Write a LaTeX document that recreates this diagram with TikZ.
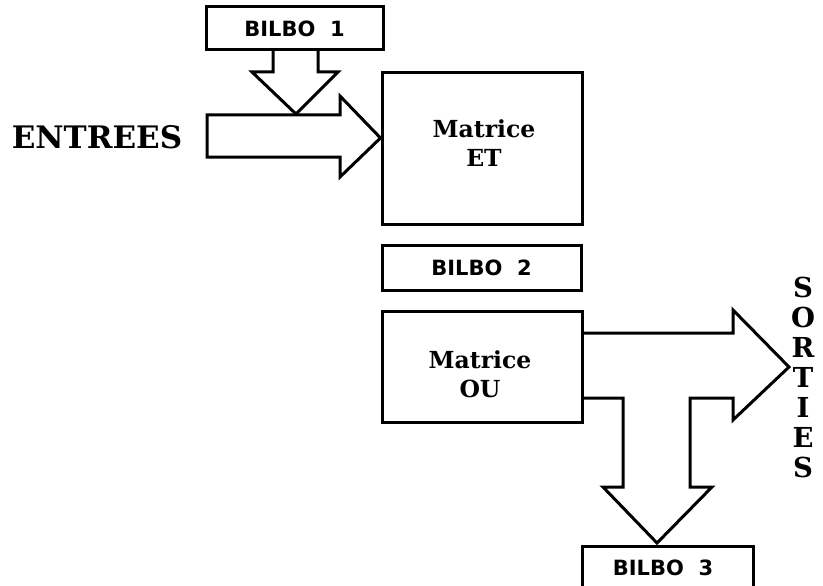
\documentclass[tikz,border=0pt]{standalone}
\usepackage{fontspec}
\setmainfont{DejaVu Serif}
\newfontfamily\bilbofont{DejaVu Sans}
\usetikzlibrary{calc}
\tikzset{
  blk/.style={draw, line width=3pt, inner sep=0pt, fill=none},
  bilbofnt/.style={font=\bilbofont\bfseries\fontsize{21}{21}\selectfont},
  bilbo/.style={blk, bilbofnt},
  mtext/.style={inner sep=0pt, font=\bfseries\fontsize{23.5}{29}\selectfont, align=center},
  fat/.style={draw, line width=3pt, line join=miter},
  big/.style={font=\bfseries\fontsize{31}{31}\selectfont},
  letter/.style={font=\bfseries\fontsize{27.5}{27.5}\selectfont, inner sep=0pt}
}
\begin{document}
\begin{tikzpicture}[x=1pt,y=-1pt]
\useasboundingbox (0,0) rectangle (823,586);
% boxes
\node[bilbo, minimum width=177pt, minimum height=43pt] (b1) at (294.5,28.5) {BILBO\ \ 1};
\node[blk, minimum width=200pt, minimum height=151pt] (et) at (482,148.5) {};
\node[mtext] (etl) at (484,143) {Matrice\\ET};
\node[bilbo, minimum width=199pt, minimum height=45pt] (b2) at (481.5,267.5) {BILBO\ \ 2};
\node[blk, minimum width=200pt, minimum height=111pt] (ou) at (482,366.5) {};
\node[mtext] (oul) at (480,374) {Matrice\\OU};
\node[blk, minimum width=171pt, minimum height=54pt] (b3box) at (667.5,573) {};
\node[bilbofnt, inner sep=0pt] (b3) at (663,568) {BILBO\ \ 3};
% texts
\node[big, inner sep=0pt] (entrees) at (97,137) {ENTREES};
\foreach \l [count=\i from 0] in {S,O,R,T,I,E,S}
  \node[letter] (s\i) at (803,287+30*\i) {\l};
% input arrow into Matrice ET
\draw[fat] (207,115) -- (340,115) -- (340,96) -- (et.west |- 0,138) -- (340,177) -- (340,157) -- (207,157) -- cycle;
% BILBO 1 arrow down
\draw[fat] (273,50) -- (273,72) -- (252,72) -- (296,114) -- (338,72) -- (318,72) -- (318,50);
% output T arrow
\draw[fat] (582,333) -- (733,333) -- (733,310) -- (789,367) -- (733,420) -- (733,398)
  -- (690,398) -- (690,487) -- (712,487) -- (657,543) -- (603,487) -- (623,487) -- (623,398) -- (582,398);
\end{tikzpicture}
\end{document}
